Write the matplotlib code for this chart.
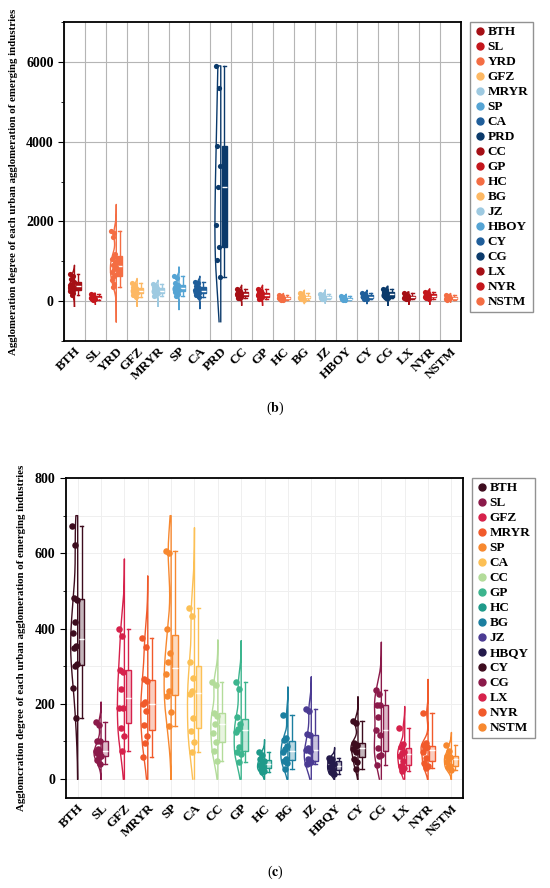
import numpy as np
import matplotlib
matplotlib.use("Agg")
import matplotlib.pyplot as plt
from matplotlib.lines import Line2D
from matplotlib.ticker import MultipleLocator, FixedLocator

plt.rcParams['font.family'] = ['Liberation Serif', 'DejaVu Serif']
plt.rcParams['mathtext.fontset'] = 'stix'

# ---------------- Panel (b) data ----------------
cats_b = ["BTH", "SL", "YRD", "GFZ", "MRYR", "SP", "CA", "PRD", "CC", "GP",
          "HC", "BG", "JZ", "HBOY", "CY", "CG", "LX", "NYR", "NSTM"]
b_BTH = [680, 640, 560, 480, 430, 400, 370, 340, 310, 280, 250, 210, 160]
b_SL = [180, 150, 130, 110, 95, 85, 75, 65, 55, 40]
b_YRD = [1750, 1700, 1620, 1180, 1100, 1050, 980, 900, 850, 800, 720, 650, 600, 520, 430, 350]
b_GFZ = [460, 400, 350, 320, 290, 270, 250, 230, 200, 180, 150, 110]
b_MRYR = [420, 380, 350, 320, 290, 260, 240, 220, 200, 170, 140]
b_SP = [620, 580, 460, 400, 370, 340, 320, 300, 270, 250, 220, 180, 140]
b_CA = [480, 450, 390, 330, 300, 270, 250, 220, 200, 180, 150, 110]
b_PRD = [5900, 5340, 3880, 3380, 2860, 1920, 1360, 1040, 610]
b_CC = [310, 260, 230, 210, 190, 170, 150, 130, 110, 90, 70]
b_GP = [300, 260, 230, 200, 180, 160, 140, 120, 100, 80, 60]
b_HC = [150, 120, 100, 90, 80, 70, 60, 50, 40, 30]
b_BG = [210, 170, 140, 120, 100, 90, 80, 60, 40]
b_JZ = [190, 160, 130, 110, 95, 80, 65, 50]
b_HBOY = [120, 95, 75, 65, 55, 45, 35, 25]
b_CY = [200, 170, 150, 130, 110, 95, 80, 60, 45]
b_CG = [310, 270, 240, 210, 180, 160, 130, 110, 90, 70]
b_LX = [200, 165, 140, 120, 100, 85, 70, 55, 45]
b_NYR = [240, 205, 175, 150, 130, 110, 95, 75, 55]
b_NSTM = [150, 120, 100, 85, 70, 60, 50, 40]
data_b = [b_BTH, b_SL, b_YRD, b_GFZ, b_MRYR, b_SP, b_CA, b_PRD, b_CC, b_GP,
          b_HC, b_BG, b_JZ, b_HBOY, b_CY, b_CG, b_LX, b_NYR, b_NSTM]
# density outline extents
vlo_b = [-130, -75, -517, -125, -125, -208, -183, -517, -100, -100,
         -17, -58, -50, -17, -58, -100, -75, -75, -17]
vhi_b = [900, 200, 2425, 567, 525, 858, 625, 5900, 400, 400,
         192, 275, 283, 175, 275, 375, 233, 308, 192]
pal_b = ['#a50f15', '#c4161c', '#f46d43', '#fdb863',
         '#9ecae1', '#55a4d4', '#1f5e9a', '#0b3a6b']

# ---------------- Panel (c) data ----------------
cats_c = ["BTH", "SL", "GFZ", "MRYR", "SP", "CA", "CC", "GP", "HC", "BG",
          "JZ", "HBQY", "CY", "CG", "LX", "NYR", "NSTM"]
c_BTH = [672, 622, 482, 476, 418, 387, 355, 348, 305, 300, 241, 163]
c_SL = [152, 145, 101, 100, 80, 76, 74, 70, 62, 58, 50, 40]
c_GFZ = [400, 380, 290, 285, 240, 190, 190, 135, 115, 75]
c_MRYR = [375, 350, 265, 262, 205, 200, 180, 145, 115, 95, 60]
c_SP = [605, 600, 398, 335, 310, 278, 235, 220, 178, 140]
c_CA = [455, 433, 311, 269, 234, 225, 163, 128, 99, 72]
c_CC = [258, 249, 177, 168, 146, 122, 99, 75, 49]
c_GP = [258, 239, 166, 146, 133, 126, 85, 72, 68, 46]
c_HC = [72, 65, 53, 48, 42, 38, 31, 28, 22, 18]
c_BG = [170, 108, 104, 88, 79, 71, 53, 49, 44, 26]
c_JZ = [187, 181, 120, 116, 84, 78, 75, 53, 45, 42, 40]
c_HBQY = [57, 53, 48, 40, 35, 31, 24, 18, 14]
c_CY = [155, 148, 97, 92, 88, 79, 71, 53, 45, 26]
c_CG = [238, 225, 198, 196, 166, 130, 117, 84, 64, 62, 38]
c_LX = [137, 93, 85, 72, 69, 62, 49, 35, 30, 22]
c_NYR = [175, 95, 90, 86, 84, 71, 57, 44, 35, 30]
c_NSTM = [90, 75, 62, 58, 53, 45, 35, 31, 25]
data_c = [c_BTH, c_SL, c_GFZ, c_MRYR, c_SP, c_CA, c_CC, c_GP, c_HC, c_BG,
          c_JZ, c_HBQY, c_CY, c_CG, c_LX, c_NYR, c_NSTM]
vlo_c = [0] * 17
vhi_c = [700, 205, 585, 540, 700, 668, 370, 368, 105, 245,
         272, 84, 219, 364, 193, 265, 124]
pal_c = ['#3d0c1e', '#8b1a4a', '#d6214b', '#f15a2b', '#f7882f', '#fcc055',
         '#b3dc9a', '#3cb58e', '#1e9a8a', '#1b7fa0', '#4b3b93', '#241a4a']


def draw_panel(ax, cats, data, vlo, vhi, pal, solid, ms, vw):
    n = len(cats)
    for i, (vals, lo, hi) in enumerate(zip(data, vlo, vhi)):
        c = pal[i % len(pal)]
        d = np.asarray(vals, float)
        # half violin (outline)
        y = np.linspace(lo, hi, 200)
        q1, q3 = np.percentile(d, [25, 75])
        sd = d.std(ddof=1)
        bw = 0.9 * min(sd, (q3 - q1) / 1.34) * len(d) ** -0.2
        dens = np.exp(-0.5 * ((y[:, None] - d[None, :]) / bw) ** 2).sum(1)
        dens = dens / dens.max() * vw
        xs = np.concatenate([i - dens, [i, i]])
        ys = np.concatenate([y, [hi, lo]])
        ax.plot(xs, ys, color=c, lw=1.0, zorder=2)
        # box
        bp = ax.boxplot([d], positions=[i + 0.17], widths=0.24, whis=(0, 100),
                        patch_artist=True, showfliers=False, capwidths=0.14,
                        manage_ticks=False)
        for b in bp['boxes']:
            if solid:
                b.set_facecolor(c)
            else:
                b.set_facecolor(matplotlib.colors.to_rgba(c, 0.3))
            b.set_edgecolor(c)
            b.set_linewidth(1.0)
            b.set_zorder(3)
        for k in ('whiskers', 'caps'):
            for l in bp[k]:
                l.set_color(c)
                l.set_linewidth(1.0)
                l.set_zorder(3)
        for l in bp['medians']:
            l.set_color('white')
            l.set_linewidth(1.0)
            l.set_zorder(4)
        # points
        k = np.arange(len(d))
        off = -0.12 + 0.22 * (((k * 0.6180339) % 1.0) - 0.5)
        ax.scatter(i + off, d, s=ms, color=c, zorder=5, linewidths=0)
    ax.set_xlim(-0.5, n - 0.5)
    ax.set_xticks(range(n))
    ax.set_xticklabels(cats, rotation=45, ha='right', rotation_mode='anchor',
                       fontsize=9.5, fontweight='bold')
    for s in ax.spines.values():
        s.set_linewidth(1.3)
        s.set_color('black')
    handles = [Line2D([], [], marker='o', ls='', color=pal[i % len(pal)],
                      markersize=5) for i in range(n)]
    return handles


fig = plt.figure(figsize=(5.5, 8.88), dpi=100)

# ----- panel b -----
ax1 = fig.add_axes([0.1164, 0.616, 0.722, 0.3592])
h1 = draw_panel(ax1, cats_b, data_b, vlo_b, vhi_b, pal_b, True, 14, 0.28)
ax1.set_ylim(-1000, 7000)
ax1.yaxis.set_major_locator(FixedLocator([0, 2000, 4000, 6000]))
ax1.yaxis.set_minor_locator(MultipleLocator(1000))
ax1.xaxis.set_minor_locator(MultipleLocator(1.0, offset=0.5))
ax1.grid(True, which='major', axis='y', color='#b5b5b5', lw=0.8)
ax1.grid(True, which='minor', axis='x', color='#b5b5b5', lw=0.8)
ax1.set_axisbelow(True)
ax1.tick_params(axis='x', which='both', length=0, pad=3)
ax1.tick_params(axis='y', which='major', length=4, labelsize=10)
ax1.tick_params(axis='y', which='minor', length=2)
for t in ax1.get_yticklabels():
    t.set_fontweight('bold')
ax1.set_ylabel("Agglomeration degree of each urban agglomeration of emerging industries",
               fontsize=7.8, fontweight='bold', labelpad=6)
leg1 = ax1.legend(handles=h1, labels=cats_b, loc='upper left',
                  bbox_to_anchor=(470 / 550, 1 - 22 / 888), bbox_transform=fig.transFigure,
                  prop={'weight': 'bold', 'size': 9.5}, frameon=True, fancybox=False,
                  edgecolor='#777777', handletextpad=0.15, handlelength=0.9,
                  labelspacing=0.21, borderpad=0.3, borderaxespad=0)
leg1.get_frame().set_linewidth(1.0)

# ----- panel c -----
ax2 = fig.add_axes([0.12, 0.1014, 0.722, 0.3603])
h2 = draw_panel(ax2, cats_c, data_c, vlo_c, vhi_c, pal_c, False, 22, 0.3)
ax2.set_ylim(-50, 800)
ax2.yaxis.set_major_locator(MultipleLocator(200))
ax2.yaxis.set_minor_locator(MultipleLocator(100))
ax2.grid(True, which='both', axis='y', color='#efefef', lw=0.7)
ax2.grid(True, which='major', axis='x', color='#efefef', lw=0.7)
ax2.set_axisbelow(True)
ax2.tick_params(axis='x', which='both', length=0, pad=3)
ax2.tick_params(axis='y', which='major', length=4, labelsize=10)
ax2.tick_params(axis='y', which='minor', length=2)
for t in ax2.get_yticklabels():
    t.set_fontweight('bold')
ax2.set_ylabel("Agglomcration degree of each urban agglomeration of emerging industries",
               fontsize=7.8, fontweight='bold', labelpad=6)
leg2 = ax2.legend(handles=h2, labels=cats_c, loc='upper left',
                  bbox_to_anchor=(472 / 550, 1 - 478 / 888), bbox_transform=fig.transFigure,
                  prop={'weight': 'bold', 'size': 9.5}, frameon=True, fancybox=False,
                  edgecolor='#777777', handletextpad=0.15, handlelength=0.9,
                  labelspacing=0.21, borderpad=0.3, borderaxespad=0)
leg2.get_frame().set_linewidth(1.0)

fig.text(0.5, 1 - 408 / 888, r"($\mathbf{b}$)", ha='center', va='center', fontsize=10)
fig.text(0.5, 1 - 872 / 888, r"($\mathbf{c}$)", ha='center', va='center', fontsize=10)

fig.savefig("out.png", dpi=100)
